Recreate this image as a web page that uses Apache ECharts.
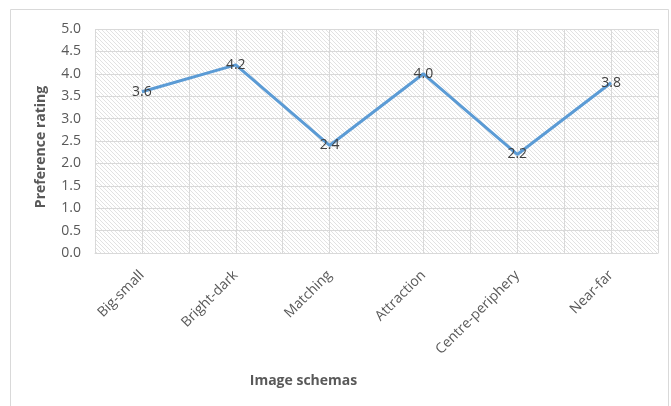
<!DOCTYPE html>
<html><head><meta charset="utf-8">
<script src="https://cdn.jsdelivr.net/npm/echarts@6/dist/echarts.min.js"></script>
<style>html,body{margin:0;padding:0;background:#fff}#c{width:671px;height:406px}</style>
</head><body><div id="c"></div>
<script>
const categories = ['Big-small','Bright-dark','Matching','Attraction','Centre-periphery','Near-far'];
const values = [3.6, 4.2, 2.4, 4.0, 2.2, 3.8];
const yTicks = [0,0.5,1,1.5,2,2.5,3,3.5,4,4.5,5];

// hatch pattern
const pc = document.createElement('canvas');
pc.width = 4; pc.height = 4;
const ctx = pc.getContext('2d');
ctx.fillStyle = '#ffffff'; ctx.fillRect(0,0,4,4);
ctx.strokeStyle = '#e2e2e2'; ctx.lineWidth = 1;
ctx.beginPath(); ctx.moveTo(-1,-1); ctx.lineTo(5,5); ctx.stroke();
ctx.beginPath(); ctx.moveTo(-1,3); ctx.lineTo(1,5); ctx.stroke();
ctx.beginPath(); ctx.moveTo(3,-1); ctx.lineTo(5,1); ctx.stroke();

const halfCats = [];
for (let i = 0; i < categories.length * 2; i++) halfCats.push('');

const font = '"Open Sans", sans-serif';
const chart = echarts.init(document.getElementById('c'));
chart.setOption({
  animation: false,
  graphic: [{type:'rect', shape:{x:10.5,y:9.5,width:658,height:420}, style:{fill:'none', stroke:'#d9d9d9', lineWidth:1}, z:-10}],
  grid: {left:95, right:13, top:29, bottom:153, show:true, backgroundColor:{image:pc, repeat:'repeat'}, borderWidth:0},
  xAxis: [{
    type:'category', data:categories, boundaryGap:true,
    name:'Image schemas', nameLocation:'middle', nameGap:121,
    nameTextStyle:{fontFamily:font, fontSize:14, fontWeight:'bold', color:'#595959', padding:[0,146,0,0]},
    axisLine:{lineStyle:{color:'#d9d9d9'}}, axisTick:{show:false},
    axisLabel:{rotate:45, fontFamily:font, fontSize:14, color:'#595959', margin:20},
    splitLine:{show:false}
  },{
    type:'category', data:halfCats, boundaryGap:true, position:'bottom',
    axisLine:{show:false}, axisTick:{show:false}, axisLabel:{show:false},
    splitLine:{show:true, interval:0, lineStyle:{color:'#d9d9d9', width:1}}
  }],
  yAxis: {
    type:'value', min:0, max:5, interval:0.5,
    name:'Preference rating', nameLocation:'middle', nameGap:47,
    nameTextStyle:{fontFamily:font, fontSize:14, fontWeight:'bold', color:'#595959', padding:[0,12,0,0]},
    axisLine:{show:false}, axisTick:{show:false},
    axisLabel:{fontFamily:font, fontSize:14, color:'#595959', margin:14, formatter:v=>v.toFixed(1)},
    splitLine:{lineStyle:{color:'#d9d9d9', width:1}}
  },
  series: [{
    type:'line', data:values, xAxisIndex:0, showSymbol:true, symbol:'circle', symbolSize:2,
    itemStyle:{color:'rgba(0,0,0,0)'},
    lineStyle:{color:'#5b9bd5', width:3},
    label:{show:true, position:'inside', fontFamily:font, fontSize:14, color:'#404040', formatter:p=>p.value.toFixed(1)}
  }]
});
</script></body></html>
